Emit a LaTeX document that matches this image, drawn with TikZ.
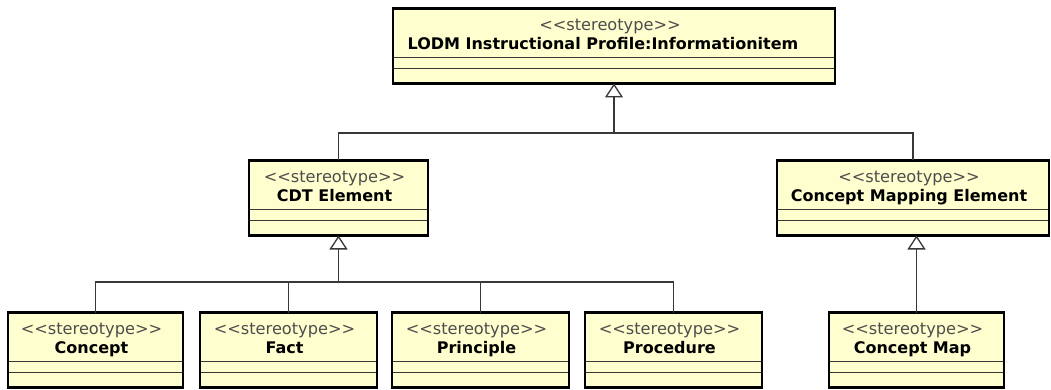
\documentclass[tikz,border=0pt]{standalone}
\usepackage{fontspec}
\newfontfamily\umlfont{DejaVu Sans}
\usetikzlibrary{arrows.meta,calc}
\definecolor{clsfill}{HTML}{FEFECE}
\definecolor{stgray}{HTML}{4D4D4D}
\definecolor{lngray}{HTML}{383838}
\tikzset{
  cls/.style={draw=black, fill=clsfill, line width=2.6pt, minimum height=75pt, inner sep=0pt, outer sep=0pt},
  compart/.style={draw=lngray, line width=1.3pt},
  stereo/.style={font=\umlfont\fontsize{16.2}{19}\selectfont, text=stgray, anchor=base, inner sep=0pt},
  clsname/.style={font=\umlfont\bfseries\fontsize{16}{19}\selectfont, anchor=base, inner sep=0pt},
  link/.style={draw=lngray, line width=1.3pt},
  gen/.style={link, -{Triangle[open, width=18pt, length=14pt, fill=white]}},
}
\begin{document}
\begin{tikzpicture}[x=1pt,y=-1pt]
\useasboundingbox (0,0) rectangle (1051,390);
% classes
\foreach \id/\cx/\cy/\w/\dx/\lbl in {
    top/614/46/442/-11/{LODM Instructional Profile:Informationitem},
    cdt/338.5/198/179/-4/{CDT Element},
    cme/913/198/272/-4/{Concept Mapping Element},
    concept/95.5/350/175/-4/{Concept},
    fact/288.5/350/177/-4/{Fact},
    principle/480.5/350/177/-4/{Principle},
    procedure/673.5/350/177/-4/{Procedure},
    cmap/916.5/350/175/-4/{Concept Map}}{
  \node[cls, minimum width=\w pt] (\id) at (\cx,\cy) {};
  \draw[compart] ([xshift=1.3pt,yshift=26pt]\id.south west) -- ([xshift=-1.3pt,yshift=26pt]\id.south east);
  \draw[compart] ([xshift=1.3pt,yshift=15pt]\id.south west) -- ([xshift=-1.3pt,yshift=15pt]\id.south east);
  \node[stereo] (\id-st) at ([xshift=-4pt,yshift=-22pt]\id.north) {<<stereotype>>};
  \node[clsname] (\id-nm) at ([xshift=\dx pt,yshift=-41pt]\id.north) {\lbl};
}
% generalizations
\coordinate (topbar) at (614,133);
\coordinate (cdtbar) at (338.5,282);
\draw[link] (cdt.north) |- (topbar);
\draw[link] (cme.north) |- (topbar);
\draw[gen] (topbar) -- (top.south);
\foreach \c in {concept,fact,principle,procedure}
  \draw[link] (\c.north) |- (cdtbar);
\draw[gen] (cdtbar) -- (cdt.south);
\draw[gen] (cmap.north) -- (cmap.north |- cme.south);
\end{tikzpicture}
\end{document}
